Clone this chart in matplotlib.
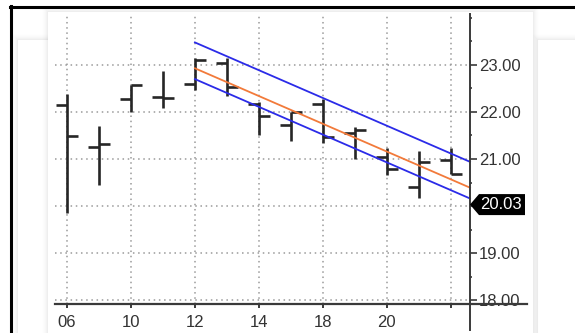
import matplotlib
matplotlib.use("Agg")
import matplotlib.pyplot as plt
import numpy as np
from matplotlib.patches import Rectangle, Polygon
from matplotlib.lines import Line2D
from matplotlib.transforms import IdentityTransform
from matplotlib.ticker import MultipleLocator

plt.rcParams["font.family"] = ["Liberation Sans", "DejaVu Sans"]

# Daily OHLC prices
days = ["06", "07", "10", "11", "12", "13", "14", "17", "18", "19", "20", "21", "24"]
opens = [22.14, 21.25, 22.28, 22.32, 22.59, 23.04, 22.18, 21.73, 22.17, 21.55, 21.04, 20.41, 20.97]
highs = [22.39, 21.70, 22.57, 22.88, 23.14, 23.15, 22.22, 22.00, 22.28, 21.69, 21.23, 21.16, 21.24]
lows = [19.86, 20.45, 22.00, 22.09, 22.47, 22.35, 21.52, 21.38, 21.35, 21.00, 20.66, 20.16, 20.68]
closes = [21.49, 21.32, 22.57, 22.29, 23.10, 22.53, 21.92, 22.00, 21.46, 21.61, 20.79, 20.94, 20.68]

# Regression channel: centre line values at its first bar and at the right edge,
# plus the upper / lower band offsets
channel_x = [4, 12.6]
channel_mid = [22.93, 20.39]
channel_upper_offset = 0.55
channel_lower_offset = -0.23

last_label_value = 20.03
y_ticks = [18, 19, 20, 21, 22, 23]

W, H = 575, 333
fig = plt.figure(figsize=(W / 100, H / 100), dpi=100)
fig.patch.set_facecolor("white")

def px(x, y):
    return (x / W, 1 - y / H)

# background cards with soft shadows
def card(x0, y0, x1, y1, z):
    for i, a in enumerate([0.018, 0.014, 0.011, 0.008, 0.006, 0.004]):
        d = i + 1
        fig.patches.append(Rectangle(px(x0 - d, y1), (x1 - x0 + 2 * d) / W,
                                     (y1 - y0 + d) / H, transform=fig.transFigure,
                                     facecolor="black", alpha=a, edgecolor="none",
                                     zorder=z - 0.1))
    fig.patches.append(Rectangle(px(x0, y1), (x1 - x0) / W, (y1 - y0) / H,
                                 transform=fig.transFigure, facecolor="white",
                                 edgecolor="none", zorder=z))

card(18, 40, 200, 345, -20)
card(538, 40, 600, 345, -20)
card(48, 12, 533, 345, -10)

# outer frame
fig.lines.append(Line2D([10 / W, 1], [1 - 7 / H] * 2, transform=fig.transFigure,
                        color="black", lw=2.2, zorder=5))
fig.lines.append(Line2D([11 / W] * 2, [1 - 6 / H, 0], transform=fig.transFigure,
                        color="black", lw=2.2, zorder=5))

ax = fig.add_axes([55 / W, 29 / H, 415 / W, 290 / H])
ax.set_facecolor("none")
ax.set_xlim(-0.375, 12.6)
ax.set_ylim(17.915, 24.085)

x = np.arange(len(days))
grid_kw = dict(color="#9a9a9a", lw=1.1, dashes=(1, 2.4), zorder=1)
for yv in y_ticks:
    ax.axhline(yv, **grid_kw)
for xv in x[::2]:
    ax.axvline(xv, **grid_kw)

# OHLC bars
tick_w = 0.35
bar_color = "#262626"
for i in range(len(days)):
    ax.plot([x[i], x[i]], [lows[i], highs[i]], color=bar_color, lw=1.9,
            solid_capstyle="butt", zorder=3)
    ax.plot([x[i] - tick_w, x[i]], [opens[i], opens[i]], color=bar_color, lw=1.9,
            solid_capstyle="butt", zorder=3)
    ax.plot([x[i], x[i] + tick_w], [closes[i], closes[i]], color=bar_color, lw=1.9,
            solid_capstyle="butt", zorder=3)

# regression channel
mid = np.array(channel_mid)
ax.plot(channel_x, mid, color="#f27a3a", lw=1.3, zorder=4, clip_on=False)
ax.plot(channel_x, mid + channel_upper_offset, color="#2b2be8", lw=1.3, zorder=4, clip_on=False)
ax.plot(channel_x, mid + channel_lower_offset, color="#2b2be8", lw=1.3, zorder=4, clip_on=False)

# axes styling
for s in ["top", "left", "bottom", "right"]:
    ax.spines[s].set_visible(False)
ax.add_line(Line2D([0, 472 / 415], [0, 0], transform=ax.transAxes,
                   color="#3a3a3a", lw=1.6, clip_on=False, zorder=5))
ax.add_line(Line2D([1, 1], [1, -26 / 290], transform=ax.transAxes,
                   color="#3a3a3a", lw=1.4, clip_on=False, zorder=5))

# price axis; the marker box takes the place of the label nearest the last value
ax.yaxis.tick_right()
ax.set_yticks(y_ticks)
ax.set_yticklabels(["" if abs(v - last_label_value) < 0.5 else f"{v:.2f}" for v in y_ticks])
ax.yaxis.set_minor_locator(MultipleLocator(0.5))
ax.tick_params(axis="y", which="major", direction="out", length=5, width=1.2,
               color="#3a3a3a", pad=1.5, labelsize=12, labelcolor="#333333")
ax.tick_params(axis="y", which="minor", direction="out", length=1.5, width=1.2,
               color="#3a3a3a")

ax.set_xticks(x[::2])
ax.set_xticklabels([d if i <= 10 else "" for i, d in zip(x[::2], days[::2])])
ax.tick_params(axis="x", direction="out", length=3, width=1.4, color="#3a3a3a",
               pad=5, labelsize=12, labelcolor="#333333")

# last value marker on the price axis
fig.canvas.draw()
tx, ty = ax.transData.transform((12.6, last_label_value))
bw, bh = 46, 21
poly = Polygon([(tx, ty), (tx + 9, ty + bh / 2), (tx + 9 + bw, ty + bh / 2),
                (tx + 9 + bw, ty - bh / 2), (tx + 9, ty - bh / 2)],
               closed=True, transform=IdentityTransform(), facecolor="black",
               edgecolor="none", zorder=6)
fig.patches.append(poly)
fig.text(tx + 9 + bw / 2 - 1, ty, f"{last_label_value:.2f}", transform=IdentityTransform(),
         color="white", fontsize=12, ha="center", va="center", zorder=7)

fig.savefig("out.png", dpi=100)
